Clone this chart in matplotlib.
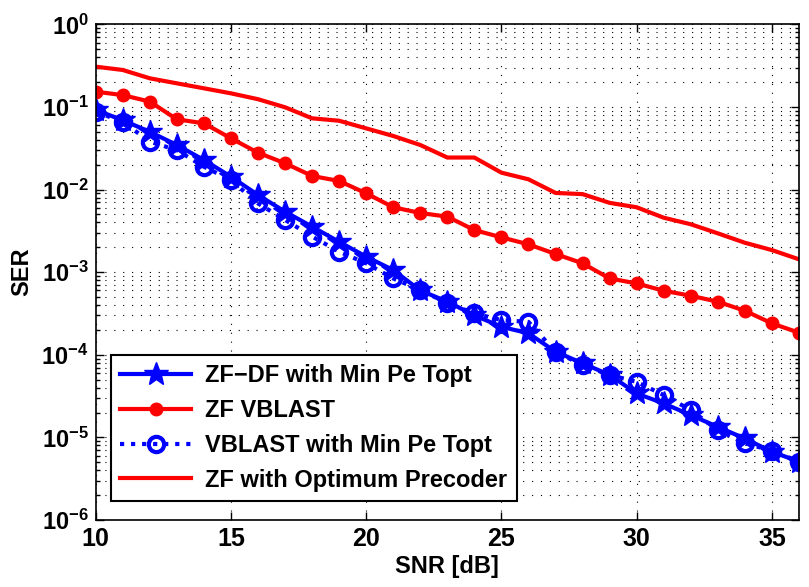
import numpy as np
import matplotlib
matplotlib.use("Agg")
import matplotlib.pyplot as plt
from matplotlib.ticker import FixedLocator, FuncFormatter, LogLocator, NullFormatter

plt.rcParams['font.family'] = ['Liberation Sans', 'DejaVu Sans']
plt.rcParams['font.weight'] = 'bold'
plt.rcParams['mathtext.fontset'] = 'custom'
plt.rcParams['mathtext.rm'] = 'Liberation Sans:bold'
plt.rcParams['mathtext.bf'] = 'Liberation Sans:bold'

snr = list(range(10, 37))

# ZF-DF with Min Pe Topt (stars)
ser_zfdf = [0.092, 0.069, 0.050, 0.0346, 0.0228, 0.0143, 0.0086, 0.0054, 0.00355,
            0.00233, 0.00154, 0.00106, 0.00060, 0.00044, 0.00030, 0.000218, 0.000182,
            0.000109, 7.9e-5, 5.7e-5, 3.4e-5, 2.58e-5, 1.86e-5, 1.34e-5, 9.7e-6,
            6.7e-6, 5.1e-6]

# ZF VBLAST (red dots)
ser_zf_vblast = [0.153, 0.139, 0.116, 0.0708, 0.0633, 0.0417, 0.0279, 0.0208, 0.0146,
                 0.0127, 0.0090, 0.0061, 0.0052, 0.0047, 0.00323, 0.00264, 0.00217,
                 0.00166, 0.00128, 0.00084, 0.00073, 0.000596, 0.000518, 0.000439,
                 0.000341, 0.00024, 0.000185]

# VBLAST with Min Pe Topt (circles)
ser_vblast = [0.0875, 0.066, 0.038, 0.030, 0.0189, 0.013, 0.0068, 0.0043, 0.0027,
              0.00177, 0.00128, 0.00084, 0.00061, 0.00042, 0.000317, 0.000263, 0.00025,
              0.000109, 7.5e-5, 5.7e-5, 4.7e-5, 3.25e-5, 2.14e-5, 1.23e-5, 8.5e-6,
              6.9e-6, 5.1e-6]

# ZF with Optimum Precoder (red line)
ser_opt = [0.307, 0.28, 0.222, 0.193, 0.168, 0.146, 0.124, 0.099, 0.0728, 0.068,
           0.055, 0.0445, 0.0346, 0.0244, 0.0244, 0.016, 0.0133, 0.0091, 0.0088,
           0.0069, 0.0061, 0.00456, 0.0038, 0.00295, 0.00227, 0.00185, 0.00143]

fig = plt.figure(figsize=(8.09, 5.87), dpi=100)
ax = fig.add_axes([0.1183, 0.1141, 0.8693, 0.8445])

ax.semilogy(snr, ser_zfdf, color='blue', lw=3, marker='*', ms=18,
            label='ZF\u2212DF with Min Pe Topt')
ax.semilogy(snr, ser_zf_vblast, color='red', lw=3, marker='o', ms=9,
            label='ZF VBLAST')
ax.semilogy(snr, ser_vblast, color='blue', lw=3, ls=':', marker='o', ms=11,
            mfc='none', mew=3, label='VBLAST with Min Pe Topt')
ax.semilogy(snr, ser_opt, color='red', lw=3, label='ZF with Optimum Precoder')

ax.set_xlim(10, 36)
ax.set_ylim(1e-6, 1)
ax.xaxis.set_major_locator(FixedLocator([10, 15, 20, 25, 30, 35]))
ax.yaxis.set_major_locator(LogLocator(base=10, numticks=10))
ax.yaxis.set_minor_locator(LogLocator(base=10, subs=np.arange(2, 10), numticks=20))
ax.yaxis.set_minor_formatter(NullFormatter())
ax.yaxis.set_major_formatter(FuncFormatter(lambda v, p: r'$\mathbf{10^{%d}}$' % round(np.log10(v))))

ax.grid(True, which='major', axis='both', color='black', ls=(0, (1, 7)), lw=0.8)
ax.grid(True, which='minor', axis='y', color='black', ls=(0, (1, 7)), lw=0.8)

ax.tick_params(which='both', direction='in', top=True, right=True)
ax.tick_params(axis='x', labelsize=18, pad=5)
ax.tick_params(axis='y', labelsize=17, pad=5)
ax.tick_params(which='major', length=6, width=1)
ax.tick_params(which='minor', length=3, width=1)
for s in ax.spines.values():
    s.set_linewidth(1.2)

for lab in ax.get_xticklabels():
    lab.set_fontweight('bold')

ax.set_xlabel('SNR [dB]', fontsize=17, fontweight='bold', labelpad=3)
ax.set_ylabel('SER', fontsize=17, fontweight='bold', labelpad=6)

leg = ax.legend(loc='lower left', bbox_to_anchor=(0.0218, 0.0383), borderaxespad=0,
                fontsize=17, handlelength=3.0, fancybox=False, framealpha=1,
                edgecolor='black', borderpad=0.4, labelspacing=0.5, handletextpad=0.6)
leg.get_frame().set_linewidth(1.5)

fig.savefig('out.png', dpi=100)
